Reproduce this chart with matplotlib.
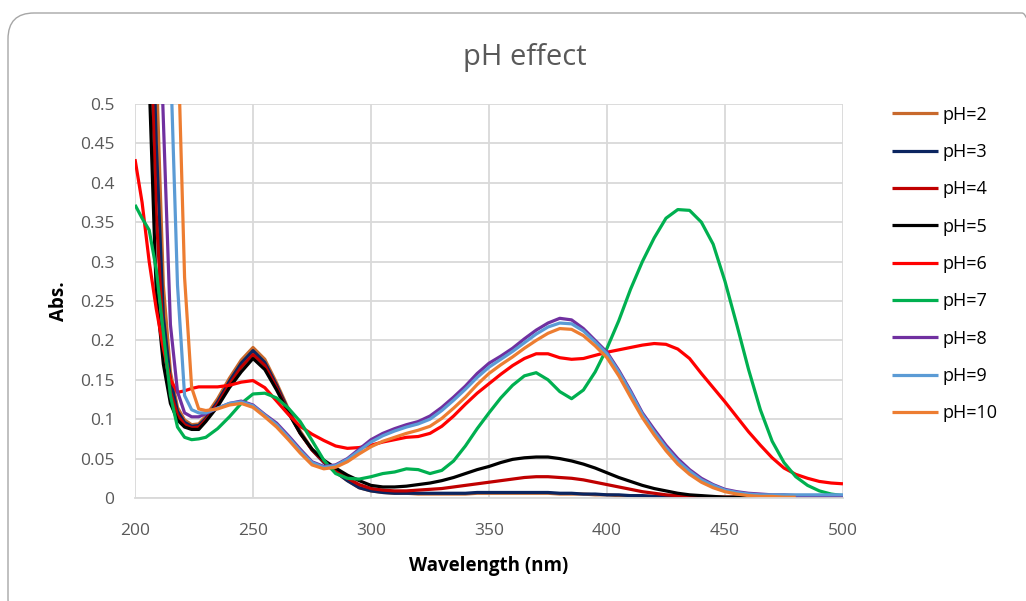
import numpy as np
import matplotlib.pyplot as plt
from matplotlib.patches import FancyBboxPatch
from matplotlib.transforms import IdentityTransform

plt.rcParams['font.family'] = ['Open Sans', 'DejaVu Sans']

# wavelength grid (nm)
wl = [200, 203, 206, 209, 212, 215, 218, 221, 224, 227, 230,
      235, 240, 245, 250, 255, 260, 265, 270, 275, 280, 285, 290, 295,
      300, 305, 310, 315, 320, 325, 330, 335, 340, 345, 350, 355, 360,
      365, 370, 375, 380, 385, 390, 395, 400, 405, 410, 415, 420, 425,
      430, 435, 440, 445, 450, 455, 460, 465, 470, 475, 480, 485, 490,
      495, 500]

nan = np.nan

ph2 = [1.5, 1.2, 0.85, 0.55, 0.27, 0.16, 0.115, 0.099, 0.093, 0.094, 0.104,
       0.126, 0.152, 0.175, 0.191, 0.176, 0.146, 0.113, 0.085, 0.062, 0.046, 0.033, 0.022, 0.013,
       0.009, 0.007, 0.006, 0.006, 0.005, 0.005, 0.005, 0.005, 0.005, 0.006, 0.006, 0.006, 0.006,
       0.006, 0.006, 0.006, 0.005, 0.005, 0.005, 0.004, 0.004, 0.003, 0.003, 0.002, 0.002, 0.002,
       0.001, 0.001, 0.001, 0.001, 0.001, 0.001, 0.001, 0.001, 0.001, 0.001, 0.001, nan, nan,
       nan, nan]

ph3 = [1.5, 1.1, 0.75, 0.45, 0.23, 0.15, 0.11, 0.096, 0.091, 0.092, 0.101,
       0.122, 0.148, 0.171, 0.187, 0.172, 0.143, 0.111, 0.083, 0.061, 0.045, 0.033, 0.022, 0.013,
       0.009, 0.007, 0.006, 0.006, 0.006, 0.006, 0.006, 0.006, 0.006, 0.007, 0.007, 0.007, 0.007,
       0.007, 0.007, 0.007, 0.006, 0.006, 0.005, 0.005, 0.004, 0.004, 0.003, 0.003, 0.002, 0.002,
       0.001, 0.001, 0.001, 0.001, nan, nan, nan, nan, nan, nan, nan, nan, nan,
       nan, nan]

ph4 = [1.5, 1.0, 0.65, 0.36, 0.2, 0.135, 0.105, 0.093, 0.089, 0.09, 0.099,
       0.119, 0.144, 0.166, 0.182, 0.168, 0.14, 0.109, 0.082, 0.061, 0.046, 0.035, 0.025, 0.017,
       0.012, 0.010, 0.009, 0.009, 0.010, 0.011, 0.012, 0.014, 0.016, 0.018, 0.020, 0.022, 0.024,
       0.026, 0.027, 0.027, 0.026, 0.025, 0.023, 0.020, 0.017, 0.014, 0.011, 0.008, 0.006, 0.004,
       0.003, 0.002, 0.002, 0.001, 0.001, 0.001, 0.001, 0.001, 0.001, 0.001, 0.001, 0.001, 0.001,
       0.001, 0.001]

ph5 = [1.5, 0.9, 0.53, 0.26, 0.17, 0.12, 0.099, 0.09, 0.087, 0.087, 0.097,
       0.116, 0.140, 0.160, 0.177, 0.163, 0.137, 0.108, 0.082, 0.062, 0.048, 0.038, 0.029, 0.022,
       0.016, 0.014, 0.014, 0.015, 0.017, 0.019, 0.022, 0.026, 0.031, 0.036, 0.040, 0.045, 0.049,
       0.051, 0.052, 0.052, 0.050, 0.047, 0.043, 0.038, 0.032, 0.026, 0.021, 0.016, 0.012, 0.009,
       0.006, 0.004, 0.003, 0.002, 0.001, 0.001, 0.001, 0.001, 0.001, 0.001, 0.001, 0.001, 0.001,
       0.001, 0.001]

ph6 = [0.43, 0.375, 0.30, 0.24, 0.19, 0.15, 0.134, 0.136, 0.139, 0.141, 0.141,
       0.141, 0.143, 0.147, 0.149, 0.140, 0.123, 0.106, 0.091, 0.081, 0.073, 0.066, 0.063, 0.064,
       0.067, 0.071, 0.074, 0.077, 0.078, 0.082, 0.091, 0.104, 0.119, 0.133, 0.145, 0.157, 0.168,
       0.177, 0.183, 0.183, 0.178, 0.176, 0.177, 0.181, 0.185, 0.188, 0.191, 0.194, 0.196, 0.195,
       0.189, 0.177, 0.158, 0.140, 0.122, 0.103, 0.084, 0.067, 0.051, 0.038, 0.030, 0.025, 0.021,
       0.019, 0.018]

ph7 = [0.372, 0.355, 0.34, 0.29, 0.21, 0.13, 0.09, 0.077, 0.074, 0.075, 0.077,
       0.088, 0.103, 0.120, 0.132, 0.133, 0.127, 0.114, 0.097, 0.073, 0.048, 0.031, 0.025, 0.024,
       0.027, 0.031, 0.033, 0.037, 0.036, 0.031, 0.035, 0.047, 0.066, 0.088, 0.108, 0.127, 0.143,
       0.155, 0.159, 0.150, 0.135, 0.126, 0.137, 0.160, 0.190, 0.225, 0.265, 0.300, 0.330, 0.355,
       0.366, 0.365, 0.350, 0.322, 0.275, 0.220, 0.163, 0.112, 0.072, 0.045, 0.027, 0.016, 0.009,
       0.005, 0.003]

ph8 = [2.0, 1.6, 1.1, 0.75, 0.48, 0.22, 0.135, 0.108, 0.103, 0.103, 0.107,
       0.114, 0.120, 0.123, 0.118, 0.106, 0.095, 0.079, 0.062, 0.046, 0.040, 0.042, 0.050, 0.062,
       0.074, 0.082, 0.088, 0.093, 0.097, 0.104, 0.115, 0.128, 0.142, 0.158, 0.171, 0.180, 0.190,
       0.202, 0.213, 0.222, 0.228, 0.226, 0.215, 0.200, 0.185, 0.162, 0.136, 0.108, 0.087, 0.067,
       0.050, 0.036, 0.025, 0.017, 0.011, 0.008, 0.006, 0.005, 0.004, 0.004, 0.003, 0.003, 0.003,
       0.003, 0.003]

ph9 = [2.2, 1.9, 1.5, 1.1, 0.8, 0.56, 0.27, 0.13, 0.112, 0.108, 0.108,
       0.114, 0.120, 0.122, 0.117, 0.105, 0.093, 0.077, 0.060, 0.045, 0.039, 0.041, 0.049, 0.060,
       0.071, 0.079, 0.085, 0.090, 0.094, 0.100, 0.111, 0.124, 0.138, 0.153, 0.166, 0.176, 0.186,
       0.197, 0.208, 0.217, 0.222, 0.221, 0.212, 0.198, 0.183, 0.160, 0.134, 0.106, 0.084, 0.064,
       0.047, 0.034, 0.023, 0.016, 0.010, 0.007, 0.005, 0.004, 0.004, 0.004, 0.004, 0.004, 0.004,
       0.004, 0.004]

ph10 = [2.5, 2.2, 1.8, 1.4, 1.0, 0.8, 0.6, 0.28, 0.14, 0.113, 0.111,
        0.113, 0.118, 0.120, 0.115, 0.103, 0.090, 0.074, 0.057, 0.042, 0.037, 0.039, 0.046, 0.056,
        0.065, 0.072, 0.077, 0.082, 0.086, 0.091, 0.101, 0.114, 0.128, 0.144, 0.158, 0.169, 0.179,
        0.190, 0.200, 0.209, 0.215, 0.214, 0.206, 0.193, 0.178, 0.155, 0.128, 0.102, 0.080, 0.060,
        0.043, 0.030, 0.020, 0.013, 0.008, 0.005, 0.003, 0.002, 0.002, 0.001, 0.001, nan, nan,
        nan, nan]

labels = ['pH=2', 'pH=3', 'pH=4', 'pH=5', 'pH=6', 'pH=7', 'pH=8', 'pH=9', 'pH=10']
series = [ph2, ph3, ph4, ph5, ph6, ph7, ph8, ph9, ph10]
colors = ['#C8692C', '#0B2560', '#C00000', '#000000', '#FF0000',
          '#00B050', '#7030A0', '#5B9BD5', '#ED7D31']

fig = plt.figure(figsize=(10.26, 6.01), dpi=100)

# chart area border (pixel coords, runs off the right and bottom edges)
border = FancyBboxPatch((8, -24), 1040, 612,
                        boxstyle="round,pad=0,rounding_size=26",
                        transform=IdentityTransform(), facecolor='none',
                        edgecolor='#A6A6A6', linewidth=1.0)
fig.patches.append(border)

ax = fig.add_axes([0.1316, 0.1714, 0.69, 0.6556])

for y, c, lab in zip(series, colors, labels):
    ax.plot(wl, y, color=c, lw=2.3, label=lab, solid_capstyle='butt')

ax.set_xlim(200, 500)
ax.set_ylim(0, 0.5)
ax.set_xticks(np.arange(200, 501, 50))
ax.set_yticks(np.arange(0, 0.501, 0.05))
ax.set_yticklabels(['0', '0.05', '0.1', '0.15', '0.2', '0.25', '0.3',
                    '0.35', '0.4', '0.45', '0.5'])
ax.grid(True, color='#D9D9D9', lw=1.3)
ax.set_axisbelow(True)
for s in ['top', 'right', 'left']:
    ax.spines[s].set_visible(False)
ax.spines['bottom'].set_color('#D9D9D9')
ax.spines['bottom'].set_linewidth(1.3)
ax.tick_params(length=0, labelsize=12.5, colors='#595959')
ax.tick_params(axis='x', pad=18)
ax.tick_params(axis='y', pad=15)

ax.set_xlabel('Wavelength (nm)', fontsize=13.5, fontweight='bold', labelpad=12)
ax.set_ylabel('Abs.', fontsize=13.5, fontweight='bold', labelpad=8)

fig.text(0.512, 0.905, 'pH effect', ha='center', va='center',
         fontsize=21, color='#595959')

leg = ax.legend(loc='upper left', bbox_to_anchor=(0.861, 0.839),
                bbox_transform=fig.transFigure, frameon=False,
                fontsize=13, handlelength=2.55, handletextpad=0.25,
                labelspacing=1.07, borderpad=0)

fig.savefig('out.png', dpi=100)
